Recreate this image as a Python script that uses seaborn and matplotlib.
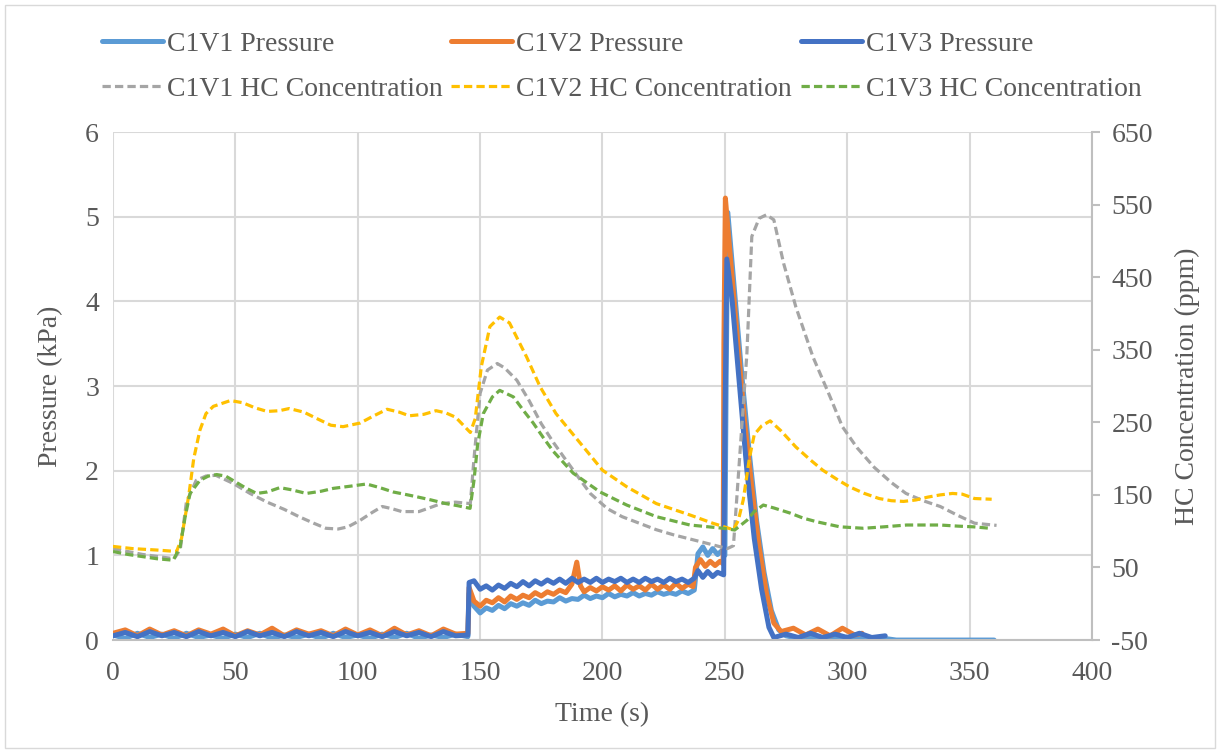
"""Chamber pressure and HC concentration traces (C1V1-C1V3)."""

import matplotlib

matplotlib.use("Agg")
import matplotlib.pyplot as plt
from matplotlib.patches import Rectangle
import pandas as pd
import seaborn as sns


# --- pressure traces (kPa) -------------------------------------------------
P1_TIME = [0, 5, 10, 15, 20, 25, 30, 35, 40, 45, 50, 55, 60, 65, 70, 75, 80, 85, 90, 95,
           100, 105, 110, 115, 120, 125, 130, 135, 140, 145, 145.5,
           147.5, 150, 152.5, 155, 157.5, 160, 162.5, 165, 167.5, 170, 172.5, 175, 177.5,
           180, 182.5, 185, 187.5, 190, 192.5, 195, 197.5, 200, 202.5, 205, 207.5, 210,
           212.5, 215, 217.5, 220, 222.5, 225, 227.5, 230, 232.5, 235, 237.5,
           239, 241, 243, 245, 247, 249, 250, 250.5, 251.2, 254, 257, 260, 263, 266,
           269, 272, 275, 280, 285, 290, 295, 300, 305, 310, 315, 320, 340, 360]
P1_VALUE = [0.06, 0.02, 0.08, 0.03, 0.07, 0.02, 0.08, 0.03, 0.06, 0.02, 0.07, 0.03, 0.08,
            0.02, 0.06, 0.03, 0.07, 0.02, 0.08, 0.03, 0.06, 0.02, 0.07, 0.03, 0.08, 0.02,
            0.06, 0.03, 0.07, 0.04, 0.55,
            0.40, 0.32, 0.38, 0.35, 0.41, 0.37, 0.43, 0.40, 0.44, 0.41, 0.47, 0.43, 0.46,
            0.45, 0.50, 0.46, 0.49, 0.48, 0.53, 0.49, 0.52, 0.50, 0.55, 0.51, 0.54, 0.52,
            0.56, 0.52, 0.55, 0.53, 0.57, 0.54, 0.56, 0.54, 0.58, 0.55, 0.59,
            1.02, 1.10, 1.00, 1.08, 1.01, 1.06, 1.00, 3.00, 5.05, 4.10, 3.10, 2.20, 1.40,
            0.80, 0.35, 0.12, 0.05, 0.02, 0.04, 0.01, 0.03, 0.01, 0.03, 0.01, 0.02, 0.0,
            0.0, 0.0]

P2_TIME = [0, 5, 10, 15, 20, 25, 30, 35, 40, 45, 50, 55, 60, 65, 70, 75, 80, 85, 90, 95,
           100, 105, 110, 115, 120, 125, 130, 135, 140, 145, 145.5,
           147.5, 150, 152.5, 155, 157.5, 160, 162.5, 165, 167.5, 170, 172.5, 175, 177.5,
           180, 182.5, 185, 187.5, 189.5, 191, 192.5, 195, 197.5, 200, 202.5, 205, 207.5,
           210, 212.5, 215, 217.5, 220, 222.5, 225, 227.5, 230, 232.5, 235, 237,
           238, 240, 242, 244, 246, 248, 249.3, 249.6, 250.2, 252, 255, 258, 261,
           264, 267, 270, 273, 278, 283, 288, 293, 298, 303, 306]
P2_VALUE = [0.08, 0.12, 0.05, 0.13, 0.06, 0.11, 0.05, 0.12, 0.07, 0.13, 0.05, 0.11, 0.06,
            0.14, 0.05, 0.12, 0.07, 0.11, 0.05, 0.13, 0.06, 0.12, 0.05, 0.14, 0.06, 0.11,
            0.05, 0.13, 0.07, 0.08, 0.62,
            0.46, 0.40, 0.47, 0.44, 0.50, 0.45, 0.52, 0.48, 0.53, 0.50, 0.56, 0.52, 0.57,
            0.54, 0.59, 0.56, 0.66, 0.92, 0.64, 0.57, 0.62, 0.58, 0.63, 0.59, 0.64, 0.58,
            0.65, 0.60, 0.64, 0.59, 0.66, 0.60, 0.65, 0.60, 0.67, 0.61, 0.66, 0.63,
            0.86, 0.95, 0.87, 0.93, 0.88, 0.93, 0.90, 3.50, 5.22, 4.60, 3.60, 2.60, 1.80,
            1.10, 0.55, 0.20, 0.10, 0.14, 0.06, 0.13, 0.05, 0.14, 0.06, 0.08]

P3_TIME = [0, 5, 10, 15, 20, 25, 30, 35, 40, 45, 50, 55, 60, 65, 70, 75, 80, 85, 90, 95,
           100, 105, 110, 115, 120, 125, 130, 135, 140, 145, 145.5,
           147.5, 150, 152.5, 155, 157.5, 160, 162.5, 165, 167.5, 170, 172.5, 175, 177.5,
           180, 182.5, 185, 187.5, 190, 192.5, 195, 197.5, 200, 202.5, 205, 207.5, 210,
           212.5, 215, 217.5, 220, 222.5, 225, 227.5, 230, 232.5, 235, 237.5,
           239, 241, 243, 245, 247, 249.5, 250, 250.8, 253, 256, 259, 262, 265,
           268, 270, 275, 280, 285, 290, 295, 300, 305, 310, 315.5]
P3_VALUE = [0.05, 0.09, 0.04, 0.10, 0.05, 0.09, 0.04, 0.10, 0.05, 0.09, 0.04, 0.10, 0.05,
            0.09, 0.04, 0.10, 0.05, 0.09, 0.04, 0.10, 0.05, 0.09, 0.04, 0.10, 0.05, 0.09,
            0.04, 0.10, 0.05, 0.06, 0.68,
            0.70, 0.60, 0.64, 0.59, 0.65, 0.61, 0.67, 0.63, 0.69, 0.64, 0.70, 0.66, 0.71,
            0.67, 0.72, 0.67, 0.73, 0.68, 0.72, 0.68, 0.73, 0.68, 0.72, 0.69, 0.73, 0.68,
            0.72, 0.68, 0.73, 0.69, 0.72, 0.68, 0.73, 0.69, 0.72, 0.68, 0.73,
            0.82, 0.74, 0.81, 0.75, 0.80, 0.77, 2.50, 4.50, 4.00, 3.00, 2.00, 1.20, 0.60,
            0.15, 0.03, 0.07, 0.03, 0.08, 0.03, 0.07, 0.03, 0.08, 0.03, 0.05]

# --- HC concentration traces (ppm) -----------------------------------------
HC1_TIME = [0, 12, 25, 27.5, 30, 34, 38, 42, 49, 56, 63, 70, 76, 82, 87, 92, 96, 101,
            106, 110, 114, 118, 125, 130, 134, 140, 146, 147.5, 150, 153, 157, 160, 165,
            170, 175, 180, 184, 190, 195, 202, 208, 215, 222, 229, 236, 243, 251, 253.5,
            256, 259, 261, 264, 267, 270, 274, 279, 286, 293, 298, 304, 311, 318, 324,
            331, 338, 345, 352, 361]
HC1_VALUE = [76, 68, 62, 75, 140, 170, 176, 177, 166, 152, 140, 130, 120, 111, 104, 103,
             106, 115, 126, 134, 131, 127, 127, 133, 138, 140, 138, 200, 290, 322, 331,
             325, 308, 280, 248, 222, 203, 175, 152, 131, 120, 111, 102, 95, 89, 83, 76,
             80, 200, 345, 506, 531, 536, 529, 469, 409, 340, 285, 244, 215, 188, 167,
             152, 142, 134, 122, 111, 108]

HC2_TIME = [0, 8, 18, 26, 28, 31, 33, 35.5, 38, 41, 48, 53, 58, 63, 68, 72, 78, 84, 89,
            94, 101, 106, 112, 117, 121, 127, 132, 136, 140, 146, 148, 150.5, 154, 158,
            162, 169, 174.5, 181, 191, 200, 210, 222, 236, 245, 253.5, 255.5, 257.5,
            260, 262, 265, 268.5, 273, 279, 285, 290, 296, 301, 307, 313, 318, 323, 328,
            333, 338, 343, 347, 352, 359]
HC2_VALUE = [79, 76, 74, 72, 90, 150, 200, 239, 262, 272, 280, 277, 270, 265, 266, 269,
             264, 254, 246, 244, 249, 258, 268, 264, 259, 261, 266, 263, 257, 236, 255,
             327, 382, 395, 387, 340, 299, 262, 221, 184, 161, 138, 122, 111, 102, 115,
             143, 200, 233, 245, 252, 238, 216, 198, 184, 171, 161, 152, 145, 142, 141,
             143, 147, 150, 152, 151, 145, 144]

HC3_TIME = [0, 6, 12, 18, 24.6, 27.4, 29.5, 31.5, 35.5, 39, 42.4, 46, 49, 54, 58.7, 63,
            68.2, 73, 79, 85, 90, 97, 103.6, 109, 114.5, 119, 124, 130, 136, 141, 145.9,
            147.5, 149, 151.3, 155, 158, 163.6, 168, 171.7, 176, 179.9, 188, 199, 209.9,
            222, 235.7, 249.4, 254, 259, 262, 265.7, 270, 276.6, 282, 287.5, 297, 306.6,
            315, 324.3, 337.9, 345, 351.5, 358.3]
HC3_VALUE = [72, 68, 65, 62, 60, 78, 120, 152, 170, 176, 178, 176, 170, 160, 152, 154,
             160, 157, 152, 155, 159, 162, 165, 160, 154, 151, 147.5, 143, 138, 135, 131.5,
             170, 220, 262, 285, 294, 285, 265, 249, 228, 210, 180, 154, 136, 120, 108.5,
             104, 101.6, 115, 127, 136, 132, 125, 118, 113, 106, 104, 106, 108.5, 108.5,
             107, 106, 104]

PRESSURE_LABELS = ["C1V1 Pressure", "C1V2 Pressure", "C1V3 Pressure"]
HC_LABELS = ["C1V1 HC Concentration", "C1V2 HC Concentration", "C1V3 HC Concentration"]

PRESSURE_COLORS = ["#5B9BD5", "#ED7D31", "#4472C4"]
HC_COLORS = ["#A5A5A5", "#FFC000", "#70AD47"]

X_TICKS = list(range(0, 401, 50))
P_TICKS = list(range(0, 7))
HC_TICKS = list(range(-50, 651, 100))

TEXT = "#595959"
GRID = "#D9D9D9"
FS = 20


def trace(time, value):
    return pd.DataFrame({"time": time, "value": value})


sns.set_style("white")
plt.rcParams["font.family"] = ["Liberation Serif", "DejaVu Serif"]
plt.rcParams["axes.unicode_minus"] = False

fig = plt.figure(figsize=(12.2, 7.53), dpi=100)
ax = fig.add_axes([0.0926, 0.150, 0.8025, 0.6747])
ax2 = ax.twinx()

pressure = [(P1_TIME, P1_VALUE), (P2_TIME, P2_VALUE), (P3_TIME, P3_VALUE)]
for (t, v), label, color in zip(pressure, PRESSURE_LABELS, PRESSURE_COLORS):
    sns.lineplot(data=trace(t, v), x="time", y="value", ax=ax, color=color,
                 linewidth=3.6, estimator=None, sort=False, label=label, legend=False)

hc = [(HC1_TIME, HC1_VALUE), (HC2_TIME, HC2_VALUE), (HC3_TIME, HC3_VALUE)]
for (t, v), label, color in zip(hc, HC_LABELS, HC_COLORS):
    sns.lineplot(data=trace(t, v), x="time", y="value", ax=ax2, color=color,
                 linewidth=2.3, linestyle=(0, (2.6, 1.3)), estimator=None, sort=False,
                 label=label, legend=False)

ax.set_xlim(0, 400)
ax.set_ylim(0, 6)
ax2.set_ylim(-50, 650)
ax.set_xticks(X_TICKS)
ax.set_yticks(P_TICKS)
ax2.set_yticks(HC_TICKS)

ax.grid(True, color=GRID, linewidth=1.5)
ax.set_axisbelow(True)
ax2.grid(False)

for name in ["left", "top", "right"]:
    ax.spines[name].set_visible(False)
for name in ["left", "top", "bottom"]:
    ax2.spines[name].set_visible(False)
ax.spines["bottom"].set_color("#BFBFBF")
ax.spines["bottom"].set_linewidth(1.5)
ax2.spines["right"].set_color("#BFBFBF")
ax2.spines["right"].set_linewidth(1.5)

ax.tick_params(axis="both", length=0, labelsize=FS, labelcolor=TEXT)
ax.tick_params(axis="x", pad=15)
ax.tick_params(axis="y", pad=10)
ax2.tick_params(axis="y", length=6, width=1.5, color="#BFBFBF", direction="out",
                labelsize=FS, labelcolor=TEXT, pad=8)

ax.set_xlabel("Time (s)", fontsize=FS, color=TEXT, labelpad=12)
ax.set_ylabel("Pressure (kPa)", fontsize=FS, color=TEXT, labelpad=16)
ax2.set_ylabel("HC Concentration (ppm)", fontsize=FS, color=TEXT, labelpad=16)

handles = ax.get_lines()[:3] + ax2.get_lines()[:3]
order = [0, 3, 1, 4, 2, 5]
legend_handles = [handles[i] for i in order]
legend_labels = [(PRESSURE_LABELS + HC_LABELS)[i] for i in order]
fig.legend(legend_handles, legend_labels, ncol=3, loc="upper left",
           bbox_to_anchor=(0.063, 0.991), frameon=False, fontsize=FS,
           labelcolor=TEXT, handlelength=2.2, handletextpad=0.15,
           columnspacing=0.3, labelspacing=0.68)

fig.add_artist(Rectangle((0.004, 0.006), 0.992, 0.988, transform=fig.transFigure,
                         fill=False, edgecolor=GRID, linewidth=1.0))

fig.savefig("out.png", dpi=100)
